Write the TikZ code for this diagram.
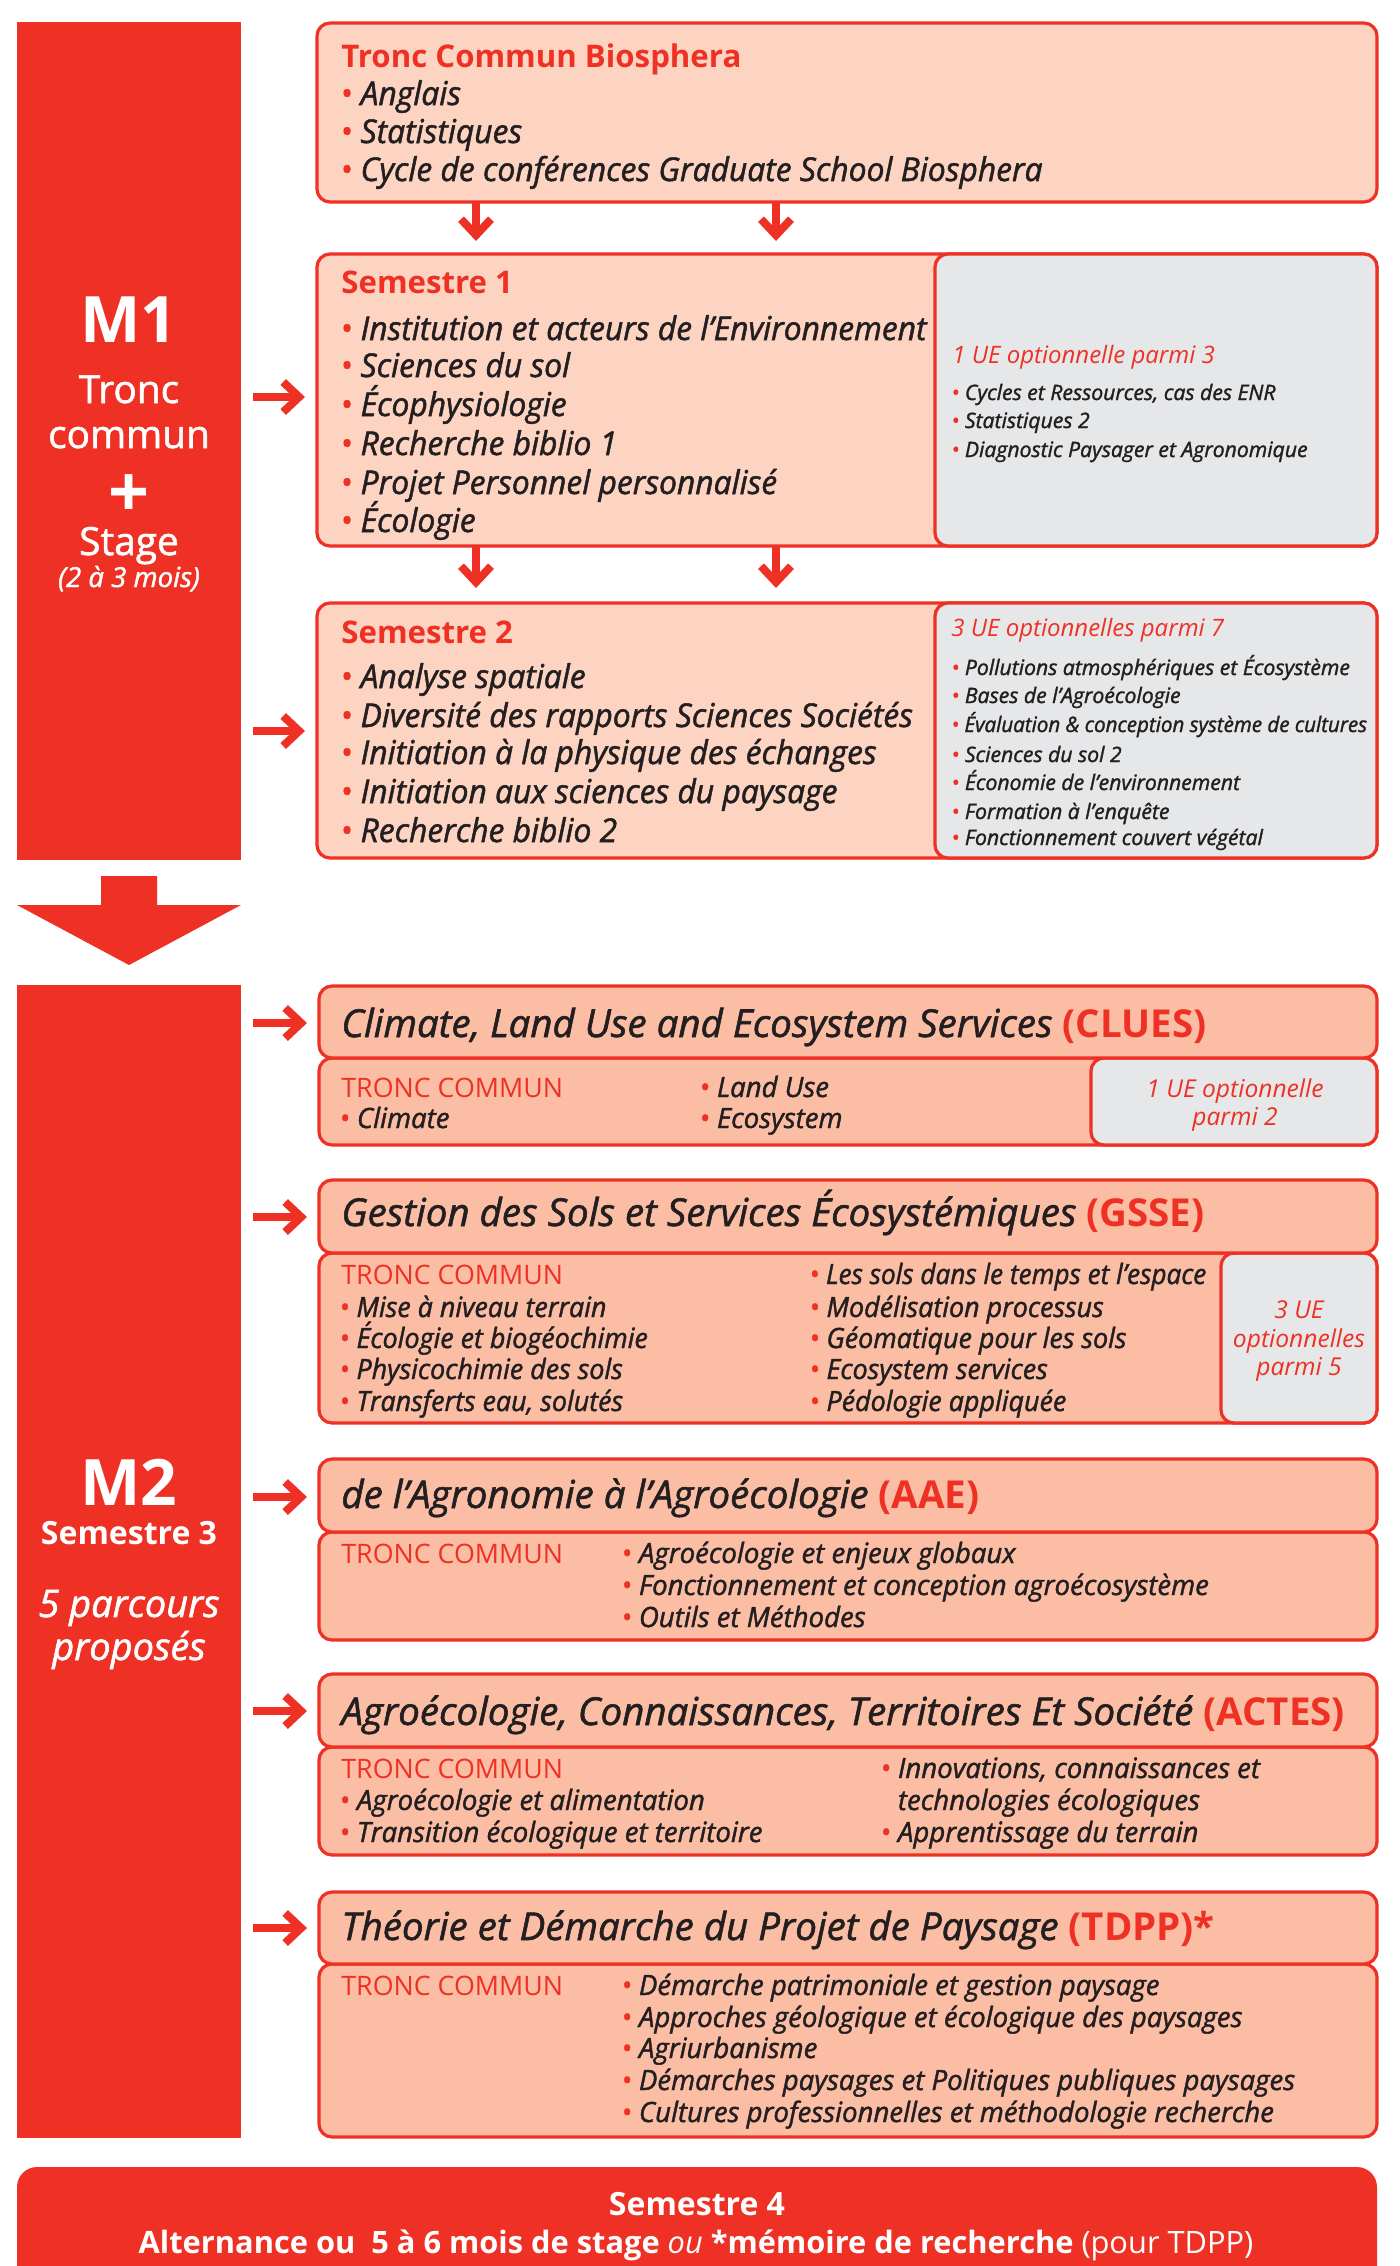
\documentclass[tikz,border=0pt]{standalone}
\usepackage{fontspec}
\setmainfont{Open Sans}
\newfontfamily\sbf{Open Sans}[FakeBold=1.5]
\newfontfamily\sbfn{Open Sans}[FakeBold=1.5, FakeStretch=0.97]
\newfontfamily\sbfm{Open Sans}[FakeBold=1.5, FakeStretch=0.985]
\newfontfamily\sbfg{Open Sans}[FakeBold=1.5, FakeStretch=0.96]
\newfontfamily\sbfgg{Open Sans}[FakeBold=1.5, FakeStretch=0.935]
\usetikzlibrary{arrows.meta}
\definecolor{rd}{HTML}{EE3124}
\definecolor{pch}{HTML}{FDD3C1}
\definecolor{pchb}{HTML}{FBBEA5}
\definecolor{gr}{HTML}{E6E7E8}
\definecolor{txt}{HTML}{231F20}
\newcommand\bul{{\color{rd}•}\ }
\newcommand\acr[1]{{\normalfont\bfseries\color{rd}#1}}
\newcommand\fs[1]{\fontsize{#1}{#1}\selectfont}
\newcommand\mybox[6]{\node[#2, anchor=north west, minimum width={(#5-#3)*0.5pt}, minimum height={(#6-#4)*0.5pt}] (#1) at (#3,#4) {};}
\begin{document}
\begin{tikzpicture}[x=0.5pt,y=-0.5pt,
  box/.style={draw=rd, line width=1.6pt, fill=pch, rounded corners=6.5pt, inner sep=0pt, outer sep=0pt},
  boxb/.style={box, fill=pchb},
  gbox/.style={box, fill=gr},
  bar/.style={fill=rd, inner sep=0pt, outer sep=0pt},
  ttl/.style={anchor=base west, inner sep=0pt, text=rd, font=\bfseries\fs{15.6}},
  itm/.style={anchor=base west, inner sep=0pt, text=txt, font=\sbfn\itshape\fs{16.4}},
  gopt/.style={anchor=base west, inner sep=0pt, text=rd, font=\itshape\fs{12}},
  gitm/.style={anchor=base west, inner sep=0pt, text=txt, font=\sbf\itshape\fs{10.6}},
  hdr/.style={anchor=base west, inner sep=0pt, text=txt, font=\sbf\itshape\fs{19.25}},
  tcm/.style={anchor=base west, inner sep=0pt, text=rd, font=\fs{13.4}},
  mitm/.style={anchor=base west, inner sep=0pt, text=txt, font=\sbfm\itshape\fs{14}},
  gitmm/.style={mitm, font=\sbfg\itshape\fs{14}},
  mopt/.style={anchor=base, inner sep=0pt, text=rd, font=\itshape\fs{12.3}},
  wt/.style={anchor=base, inner sep=0pt, text=white},
  harr/.style={draw=rd, line width=4pt, shorten >=6pt, -{Straight Barb[sharp,length=8pt,width=15pt]}},
  varr/.style={draw=rd, line width=4pt, -{Straight Barb[sharp,length=8pt,width=15pt]}}
]
\useasboundingbox (0,0) rectangle (1400,2266);
\clip (0,0) rectangle (1400,2266);

% ---------- side bars ----------
\mybox{m1}{bar}{17}{22}{241}{860}
\mybox{m2}{bar}{17}{985}{241}{2138}
\fill[rd] (101,876) -- (157,876) -- (157,905) -- (241,905) -- (129,965) -- (17,905) -- (101,905) -- cycle;

\node[wt, font=\bfseries\fs{32}] (m1a) at (129,342) {M1};
\node[wt, font=\sbf\fs{19.4}] (m1b) at (129,403) {Tronc};
\node[wt, font=\sbf\fs{19.4}] (m1c) at (129,448) {commun};
\node[wt, font=\bfseries\fs{36}] (m1d) at (129,517) {+};
\node[wt, font=\sbf\fs{19.4}] (m1e) at (129,555) {Stage};
\node[wt, font=\sbf\itshape\fs{13.8}] (m1f) at (129,587) {(2 à 3 mois)};

\node[wt, font=\bfseries\fs{32}] (m2a) at (129,1505) {M2};
\node[wt, font=\bfseries\fs{16}] (m2b) at (129,1544) {Semestre 3};
\node[wt, font=\sbf\itshape\fs{19}] (m2c) at (129,1617) {5 parcours};
\node[wt, font=\sbf\itshape\fs{19}] (m2d) at (129,1660) {proposés};

% ---------- M1 boxes ----------
\mybox{tcb}{box}{317}{23}{1377}{202}
\mybox{s1}{box}{317}{254}{1377}{546}
\mybox{s1g}{gbox}{935}{254}{1377}{546}
\mybox{s2}{box}{317}{603}{1377}{858}
\mybox{s2g}{gbox}{935}{603}{1377}{858}

\node[ttl] (tcbT) at (341,67) {Tronc Commun Biosphera};
\foreach \y/\t [count=\i] in {105/Anglais, 143/Statistiques, 181/{Cycle de conférences Graduate School Biosphera}}
  \node[itm] (tc\i) at (340,\y) {\bul\t};

\node[ttl] (s1T) at (341,293) {Semestre 1};
\foreach \y/\t [count=\i] in {340/{Institution et acteurs de l’Environnement}, 377/{Sciences du sol}, 416/{Écophysiologie}, 455/{Recherche biblio 1}, 494/{Projet Personnel personnalisé}, 532/{Écologie}}
  \node[itm] (sa\i) at (340,\y) {\bul\t};
\node[gopt] (s1o) at (952,363) {1 UE optionnelle parmi 3};
\foreach \y/\t [count=\i] in {400/{Cycles et Ressources, cas des ENR}, 428/{Statistiques 2}, 457/{Diagnostic Paysager et Agronomique}}
  \node[gitm] (ga\i) at (951,\y) {\bul\t};

\node[ttl] (s2T) at (341,643) {Semestre 2};
\foreach \y/\t [count=\i] in {688/{Analyse spatiale}, 727/{Diversité des rapports Sciences Sociétés}, 764/{Initiation à la physique des échanges}, 803/{Initiation aux sciences du paysage}, 842/{Recherche biblio 2}}
  \node[itm] (sb\i) at (340,\y) {\bul\t};
\node[gopt] (s2o) at (951,636) {3 UE optionnelles parmi 7};
\foreach \y/\t [count=\i] in {675/{Pollutions atmosphériques et Écosystème}, 703/{Bases de l’Agroécologie}}
  \node[gitm] (gb\i) at (951,\y) {\bul\t};
\node[gitm, font=\sbfn\itshape\fs{10.6}] (gb3) at (951,732) {\bul Évaluation \& conception système de cultures};
\foreach \y/\t [count=\i from 4] in {762/{Sciences du sol 2}, 790/{Économie de l’environnement}, 819/{Formation à l’enquête}, 845/{Fonctionnement couvert végétal}}
  \node[gitm] (gb\i) at (951,\y) {\bul\t};

% vertical arrows
\coordinate (d1) at (476,241); \coordinate (d2) at (776,241);
\coordinate (d3) at (476,588); \coordinate (d4) at (776,588);
\draw[varr] (d1 |- tcb.south) -- (d1);
\draw[varr] (d2 |- tcb.south) -- (d2);
\draw[varr] (d3 |- s1.south) -- (d3);
\draw[varr] (d4 |- s1.south) -- (d4);

% horizontal arrows
\coordinate (h1) at (253,397);
\coordinate (h2) at (253,731);
\draw[harr] (h1) -- (h1 -| s1.west);
\draw[harr] (h2) -- (h2 -| s2.west);

% ---------- M2 boxes ----------
% CLUES
\mybox{cb}{boxb}{319}{1058}{1377}{1145}
\mybox{cg}{gbox}{1091}{1058}{1377}{1145}
\mybox{ch}{boxb}{319}{986}{1377}{1058}
\node[hdr] (chT) at (341,1037) {Climate, Land Use and Ecosystem Services \acr{(CLUES)}};
\node[tcm] (cT) at (341,1097) {TRONC COMMUN};
\node[mitm] (c1) at (339,1128) {\bul Climate};
\node[mitm] (c2) at (699,1097) {\bul Land Use};
\node[mitm] (c3) at (699,1128) {\bul Ecosystem};
\node[mopt] (co1) at (1235,1097) {1 UE optionnelle};
\node[mopt] (co2) at (1235,1125) {parmi 2};

% GSSE
\mybox{gsb}{boxb}{319}{1253}{1377}{1423}
\mybox{gsg}{gbox}{1221}{1253}{1377}{1423}
\mybox{gsh}{boxb}{319}{1180}{1377}{1253}
\node[hdr] (gsT) at (341,1226) {Gestion des Sols et Services Écosystémiques \acr{(GSSE)}};
\node[tcm] (gT) at (341,1284) {TRONC COMMUN};
\foreach \y/\t [count=\i] in {1317/{Mise à niveau terrain}, 1348/{Écologie et biogéochimie}, 1379/{Physicochimie des sols}, 1411/{Transferts eau, solutés}}
  \node[gitmm] (gl\i) at (339,\y) {\bul\t};
\node[gitmm, font=\sbfgg\itshape\fs{14}] (gr1) at (809,1284) {\bul Les sols dans le temps et l’espace};
\foreach \y/\t [count=\i from 2] in {1317/{Modélisation processus}, 1348/{Géomatique pour les sols}, 1379/{Ecosystem services}, 1411/{Pédologie appliquée}}
  \node[gitmm] (gr\i) at (809,\y) {\bul\t};
\node[mopt] (go1) at (1299,1318) {3 UE};
\node[mopt] (go2) at (1299,1347) {optionnelles};
\node[mopt] (go3) at (1299,1375) {parmi 5};

% AAE
\mybox{ab}{boxb}{319}{1532}{1377}{1640}
\mybox{ah}{boxb}{319}{1459}{1377}{1532}
\node[hdr] (aT) at (341,1508) {de l’Agronomie à l’Agroécologie \acr{(AAE)}};
\node[tcm] (aTC) at (341,1563) {TRONC COMMUN};
\foreach \y/\t [count=\i] in {1563/{Agroécologie et enjeux globaux}, 1595/{Fonctionnement et conception agroécosystème}, 1627/{Outils et Méthodes}}
  \node[mitm] (ai\i) at (621,\y) {\bul\t};

% ACTES
\mybox{xb}{boxb}{319}{1747}{1377}{1855}
\mybox{xh}{boxb}{319}{1674}{1377}{1747}
\node[hdr] (xT) at (341,1725) {Agroécologie, Connaissances, Territoires Et Société \acr{(ACTES)}};
\node[tcm] (xTC) at (341,1778) {TRONC COMMUN};
\node[mitm] (x1) at (339,1810) {\bul Agroécologie et alimentation};
\node[mitm] (x2) at (339,1842) {\bul Transition écologique et territoire};
\node[mitm] (x3) at (880,1778) {\bul Innovations, connaissances et};
\node[mitm] (x4) at (880,1810) {\phantom{•}\ technologies écologiques};
\node[mitm] (x5) at (880,1842) {\bul Apprentissage du terrain};

% TDPP
\mybox{tb}{boxb}{319}{1964}{1377}{2137}
\mybox{th}{boxb}{319}{1892}{1377}{1964}
\node[hdr] (tT) at (341,1940) {Théorie et Démarche du Projet de Paysage \acr{(TDPP)*}};
\node[tcm] (tTC) at (341,1995) {TRONC COMMUN};
\foreach \y/\t [count=\i] in {1995/{Démarche patrimoniale et gestion paysage}, 2027/{Approches géologique et écologique des paysages}, 2058/{Agriurbanisme}, 2090/{Démarches paysages et Politiques publiques paysages}, 2122/{Cultures professionnelles et méthodologie recherche}}
  \node[mitm] (ti\i) at (621,\y) {\bul\t};

% M2 arrows
\foreach \y/\n in {1023/ch, 1217/gsh, 1497/ah, 1711/xh, 1928/th} {
  \coordinate (hh\n) at (253,\y);
  \draw[harr] (hh\n) -- (hh\n -| \n.west);
}

% ---------- Semestre 4 ----------
\mybox{s4}{bar, rounded corners=10pt}{17}{2167}{1377}{2320}
\node[wt, font=\bfseries\fs{16}] (s4a) at (697,2215) {Semestre 4};
\node[wt, font=\fs{15.4}] (s4b) at (696,2253) {{\bfseries Alternance ou\ \ 5 à 6 mois de stage} {\itshape ou} {\bfseries *mémoire de recherche} (pour TDPP)};
\end{tikzpicture}
\end{document}
